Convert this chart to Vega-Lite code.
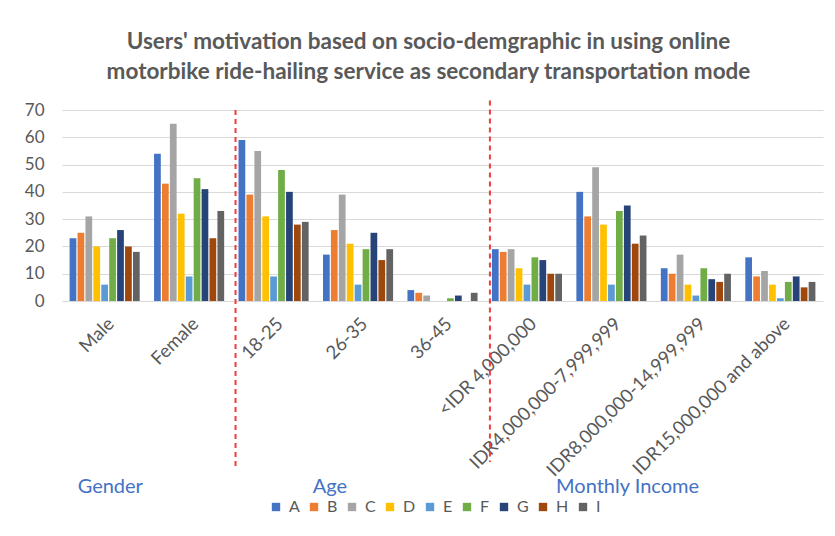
{
  "$schema": "https://vega.github.io/schema/vega-lite/v6.json",
  "width": 761,
  "height": 191,
  "autosize": {"type": "none"},
  "padding": {"left": 62, "top": 110, "right": 12, "bottom": 235},
  "background": "white",
  "config": {
    "font": "Lato",
    "view": {"stroke": null},
    "axisY": {"labelOverlap": false}
  },
  "title": {
    "text": ["Users' motivation based on socio-demgraphic in using online", "motorbike ride-hailing service as secondary transportation mode"],
    "fontSize": 22.5,
    "fontWeight": "bold",
    "color": "#595959",
    "lineHeight": 30,
    "offset": 16,
    "dx": -14,
    "anchor": "middle",
    "frame": "group"
  },
  "layer": [
    {
      "data": {
        "values": [
          {"group": "Male", "motive": "A", "count": 23}, {"group": "Male", "motive": "B", "count": 25}, {"group": "Male", "motive": "C", "count": 31},
          {"group": "Male", "motive": "D", "count": 20}, {"group": "Male", "motive": "E", "count": 6}, {"group": "Male", "motive": "F", "count": 23},
          {"group": "Male", "motive": "G", "count": 26}, {"group": "Male", "motive": "H", "count": 20}, {"group": "Male", "motive": "I", "count": 18},
          {"group": "Female", "motive": "A", "count": 54}, {"group": "Female", "motive": "B", "count": 43}, {"group": "Female", "motive": "C", "count": 65},
          {"group": "Female", "motive": "D", "count": 32}, {"group": "Female", "motive": "E", "count": 9}, {"group": "Female", "motive": "F", "count": 45},
          {"group": "Female", "motive": "G", "count": 41}, {"group": "Female", "motive": "H", "count": 23}, {"group": "Female", "motive": "I", "count": 33},
          {"group": "18-25", "motive": "A", "count": 59}, {"group": "18-25", "motive": "B", "count": 39}, {"group": "18-25", "motive": "C", "count": 55},
          {"group": "18-25", "motive": "D", "count": 31}, {"group": "18-25", "motive": "E", "count": 9}, {"group": "18-25", "motive": "F", "count": 48},
          {"group": "18-25", "motive": "G", "count": 40}, {"group": "18-25", "motive": "H", "count": 28}, {"group": "18-25", "motive": "I", "count": 29},
          {"group": "26-35", "motive": "A", "count": 17}, {"group": "26-35", "motive": "B", "count": 26}, {"group": "26-35", "motive": "C", "count": 39},
          {"group": "26-35", "motive": "D", "count": 21}, {"group": "26-35", "motive": "E", "count": 6}, {"group": "26-35", "motive": "F", "count": 19},
          {"group": "26-35", "motive": "G", "count": 25}, {"group": "26-35", "motive": "H", "count": 15}, {"group": "26-35", "motive": "I", "count": 19},
          {"group": "36-45", "motive": "A", "count": 4}, {"group": "36-45", "motive": "B", "count": 3}, {"group": "36-45", "motive": "C", "count": 2},
          {"group": "36-45", "motive": "D", "count": 0}, {"group": "36-45", "motive": "E", "count": 0}, {"group": "36-45", "motive": "F", "count": 1},
          {"group": "36-45", "motive": "G", "count": 2}, {"group": "36-45", "motive": "H", "count": 0}, {"group": "36-45", "motive": "I", "count": 3},
          {"group": "<IDR 4,000,000", "motive": "A", "count": 19}, {"group": "<IDR 4,000,000", "motive": "B", "count": 18}, {"group": "<IDR 4,000,000", "motive": "C", "count": 19},
          {"group": "<IDR 4,000,000", "motive": "D", "count": 12}, {"group": "<IDR 4,000,000", "motive": "E", "count": 6}, {"group": "<IDR 4,000,000", "motive": "F", "count": 16},
          {"group": "<IDR 4,000,000", "motive": "G", "count": 15}, {"group": "<IDR 4,000,000", "motive": "H", "count": 10}, {"group": "<IDR 4,000,000", "motive": "I", "count": 10},
          {"group": "IDR4,000,000-7,999,999", "motive": "A", "count": 40}, {"group": "IDR4,000,000-7,999,999", "motive": "B", "count": 31}, {"group": "IDR4,000,000-7,999,999", "motive": "C", "count": 49},
          {"group": "IDR4,000,000-7,999,999", "motive": "D", "count": 28}, {"group": "IDR4,000,000-7,999,999", "motive": "E", "count": 6}, {"group": "IDR4,000,000-7,999,999", "motive": "F", "count": 33},
          {"group": "IDR4,000,000-7,999,999", "motive": "G", "count": 35}, {"group": "IDR4,000,000-7,999,999", "motive": "H", "count": 21}, {"group": "IDR4,000,000-7,999,999", "motive": "I", "count": 24},
          {"group": "IDR8,000,000-14,999,999", "motive": "A", "count": 12}, {"group": "IDR8,000,000-14,999,999", "motive": "B", "count": 10}, {"group": "IDR8,000,000-14,999,999", "motive": "C", "count": 17},
          {"group": "IDR8,000,000-14,999,999", "motive": "D", "count": 6}, {"group": "IDR8,000,000-14,999,999", "motive": "E", "count": 2}, {"group": "IDR8,000,000-14,999,999", "motive": "F", "count": 12},
          {"group": "IDR8,000,000-14,999,999", "motive": "G", "count": 8}, {"group": "IDR8,000,000-14,999,999", "motive": "H", "count": 7}, {"group": "IDR8,000,000-14,999,999", "motive": "I", "count": 10},
          {"group": "IDR15,000,000 and above", "motive": "A", "count": 16}, {"group": "IDR15,000,000 and above", "motive": "B", "count": 9}, {"group": "IDR15,000,000 and above", "motive": "C", "count": 11},
          {"group": "IDR15,000,000 and above", "motive": "D", "count": 6}, {"group": "IDR15,000,000 and above", "motive": "E", "count": 1}, {"group": "IDR15,000,000 and above", "motive": "F", "count": 7},
          {"group": "IDR15,000,000 and above", "motive": "G", "count": 9}, {"group": "IDR15,000,000 and above", "motive": "H", "count": 5}, {"group": "IDR15,000,000 and above", "motive": "I", "count": 7}
        ]
      },
      "mark": {"type": "bar"},
      "encoding": {
        "x": {
          "field": "group",
          "type": "nominal",
          "sort": ["Male", "Female", "18-25", "26-35", "36-45", "<IDR 4,000,000", "IDR4,000,000-7,999,999", "IDR8,000,000-14,999,999", "IDR15,000,000 and above"],
          "scale": {"paddingInner": 0.17, "paddingOuter": 0.09},
          "axis": {
            "title": null,
            "labelAngle": -45,
            "labelFontSize": 18.5,
            "labelColor": "#595959",
            "labelLimit": 400,
            "ticks": false,
            "domain": false,
            "labelPadding": 13
          }
        },
        "xOffset": {"field": "motive", "type": "nominal", "scale": {"paddingInner": 0.15}},
        "y": {
          "field": "count",
          "type": "quantitative",
          "scale": {"domain": [0, 70]},
          "axis": {
            "title": null,
            "values": [0, 10, 20, 30, 40, 50, 60, 70],
            "grid": true,
            "gridColor": "#d9d9d9",
            "gridWidth": 1.2,
            "domain": false,
            "ticks": false,
            "labelFontSize": 17,
            "labelColor": "#595959",
            "labelPadding": 18
          }
        },
        "color": {
          "field": "motive",
          "type": "nominal",
          "scale": {"range": ["#4472C4", "#ED7D31", "#A5A5A5", "#FFC000", "#5B9BD5", "#70AD47", "#264478", "#9E480E", "#636363"]},
          "legend": {
            "title": null,
            "orient": "none",
            "legendX": 206,
            "legendY": 389,
            "direction": "horizontal",
            "columns": 9,
            "symbolType": "square",
            "symbolSize": 70,
            "symbolStrokeWidth": 0,
            "labelFontSize": 16,
            "labelColor": "#595959",
            "labelOffset": 5,
            "columnPadding": 6
          }
        }
      }
    },
    {
      "data": {"values": [{}]},
      "mark": {"type": "rule", "color": "#F03C3C", "strokeWidth": 2, "strokeDash": [5, 4], "xOffset": -3},
      "encoding": {
        "x": {"datum": "18-25", "type": "nominal", "bandPosition": 0},
        "y": {"datum": 70, "type": "quantitative", "axis": {"title": null, "values": [0, 10, 20, 30, 40, 50, 60, 70], "grid": true, "gridColor": "#d9d9d9", "gridWidth": 1.2, "domain": false, "ticks": false, "labelFontSize": 17, "labelColor": "#595959", "labelPadding": 18}},
        "y2": {"datum": -61}
      }
    },
    {
      "data": {"values": [{}]},
      "mark": {"type": "rule", "color": "#F03C3C", "strokeWidth": 2, "strokeDash": [5, 4], "xOffset": -2},
      "encoding": {
        "x": {"datum": "<IDR 4,000,000", "type": "nominal", "bandPosition": 0},
        "y": {"datum": 73.5, "type": "quantitative", "axis": {"title": null, "values": [0, 10, 20, 30, 40, 50, 60, 70], "grid": true, "gridColor": "#d9d9d9", "gridWidth": 1.2, "domain": false, "ticks": false, "labelFontSize": 17, "labelColor": "#595959", "labelPadding": 18}},
        "y2": {"datum": -59}
      }
    },
    {
      "data": {"values": [{}]},
      "mark": {"type": "text", "fontSize": 20, "color": "#4472C4", "baseline": "middle", "align": "center"},
      "encoding": {
        "x": {"datum": "Male", "type": "nominal", "bandPosition": 0.58},
        "y": {"datum": -68, "type": "quantitative", "axis": {"title": null, "values": [0, 10, 20, 30, 40, 50, 60, 70], "grid": true, "gridColor": "#d9d9d9", "gridWidth": 1.2, "domain": false, "ticks": false, "labelFontSize": 17, "labelColor": "#595959", "labelPadding": 18}},
        "text": {"value": "Gender"}
      }
    },
    {
      "data": {"values": [{}]},
      "mark": {"type": "text", "fontSize": 20, "color": "#4472C4", "baseline": "middle", "align": "center"},
      "encoding": {
        "x": {"datum": "26-35", "type": "nominal", "bandPosition": 0.1},
        "y": {"datum": -68, "type": "quantitative", "axis": {"title": null, "values": [0, 10, 20, 30, 40, 50, 60, 70], "grid": true, "gridColor": "#d9d9d9", "gridWidth": 1.2, "domain": false, "ticks": false, "labelFontSize": 17, "labelColor": "#595959", "labelPadding": 18}},
        "text": {"value": "Age"}
      }
    },
    {
      "data": {"values": [{}]},
      "mark": {"type": "text", "fontSize": 20, "color": "#4472C4", "baseline": "middle", "align": "center"},
      "encoding": {
        "x": {"datum": "IDR4,000,000-7,999,999", "type": "nominal", "bandPosition": 0.73},
        "y": {"datum": -68, "type": "quantitative", "axis": {"title": null, "values": [0, 10, 20, 30, 40, 50, 60, 70], "grid": true, "gridColor": "#d9d9d9", "gridWidth": 1.2, "domain": false, "ticks": false, "labelFontSize": 17, "labelColor": "#595959", "labelPadding": 18}},
        "text": {"value": "Monthly Income"}
      }
    }
  ]
}
